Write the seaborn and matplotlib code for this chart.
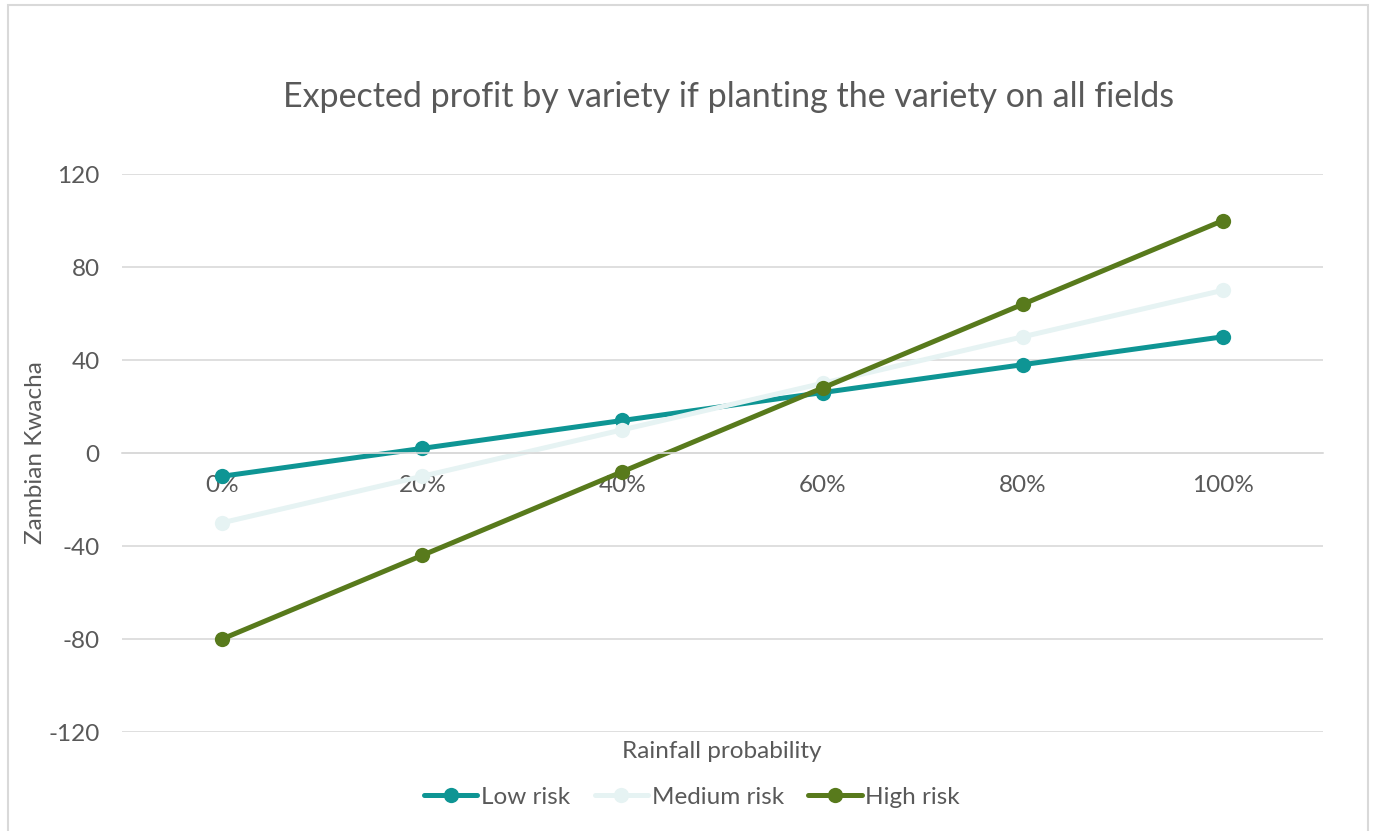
import matplotlib
matplotlib.use("Agg")
import matplotlib.pyplot as plt
import seaborn as sns
import pandas as pd
from matplotlib.patches import Rectangle

categories = ["0%", "20%", "40%", "60%", "80%", "100%"]
low_risk = [-10, 2, 14, 26, 38, 50]
medium_risk = [-30, -10, 10, 30, 50, 70]
high_risk = [-80, -44, -8, 28, 64, 100]
series_names = ["Low risk", "Medium risk", "High risk"]
colors = ["#0E9594", "#E6F3F3", "#587A1C"]
y_ticks = [-120, -80, -40, 0, 40, 80, 120]

rows = []
for name, vals in zip(series_names, [low_risk, medium_risk, high_risk]):
    for i, (c, v) in enumerate(zip(categories, vals)):
        rows.append({"pos": i, "cat": c, "value": v, "series": name})
df = pd.DataFrame(rows)

sns.set_theme(style="white")
plt.rcParams["font.family"] = ["Lato", "DejaVu Sans"]
text_color = "#595959"
grid_color = "#D9D9D9"
fs = 17.5

fig = plt.figure(figsize=(13.74, 8.31), dpi=100)
ax = fig.add_axes([0.0888, 0.1191, 0.963 - 0.0888, 0.7906 - 0.1191])

sns.lineplot(data=df, x="pos", y="value", hue="series", hue_order=series_names,
             palette=colors, marker="o", markersize=11, linewidth=3.6,
             markeredgewidth=0, ax=ax, legend=False)

ax.set_xlim(-0.5, 5.5)
ax.set_ylim(-120, 120)
ax.set_yticks(y_ticks)
ax.set_yticklabels([str(t) for t in y_ticks])
ax.set_xticks(range(len(categories)))
ax.set_xticklabels(categories)
for t in y_ticks:
    ax.axhline(t, color=grid_color, linewidth=1.2, zorder=0)
for s in ["left", "right", "top"]:
    ax.spines[s].set_visible(False)
ax.spines["bottom"].set_position(("data", 0))
ax.spines["bottom"].set_color(grid_color)
ax.spines["bottom"].set_linewidth(1.2)
ax.tick_params(axis="x", length=0, pad=16, labelsize=fs, labelcolor=text_color)
ax.tick_params(axis="y", length=0, pad=16, labelsize=fs, labelcolor=text_color)
ax.set_xlabel("")
ax.set_ylabel("")

fig.text(0.0255, (0.1191 + 0.7906) / 2, "Zambian Kwacha", rotation=90, ha="center",
         va="center", fontsize=fs, color=text_color)
fig.text(0.5255, 1 - 752 / 831, "Rainfall probability", ha="center", va="center",
         fontsize=fs, color=text_color)
fig.text(0.53, 1 - 97 / 831, "Expected profit by variety if planting the variety on all fields",
         ha="center", va="center", fontsize=24.5, color=text_color)

handles = [plt.Line2D([0], [0], color=c, lw=3.6, marker="o", markersize=11,
                      markeredgewidth=0) for c in colors]
fig.legend(handles, series_names, loc="center", bbox_to_anchor=(0.5036, 1 - 797 / 831),
           ncol=3, frameon=False, fontsize=fs, labelcolor=text_color,
           handlelength=2.2, handletextpad=0.15, columnspacing=1.0)

fig.patches.append(Rectangle((8 / 1374, -0.05), (1368 - 8) / 1374, 1.05 - 5 / 831,
                             transform=fig.transFigure, fill=False,
                             edgecolor="#D9D9D9", linewidth=1.5))

fig.savefig("out.png", dpi=100, facecolor="white")
